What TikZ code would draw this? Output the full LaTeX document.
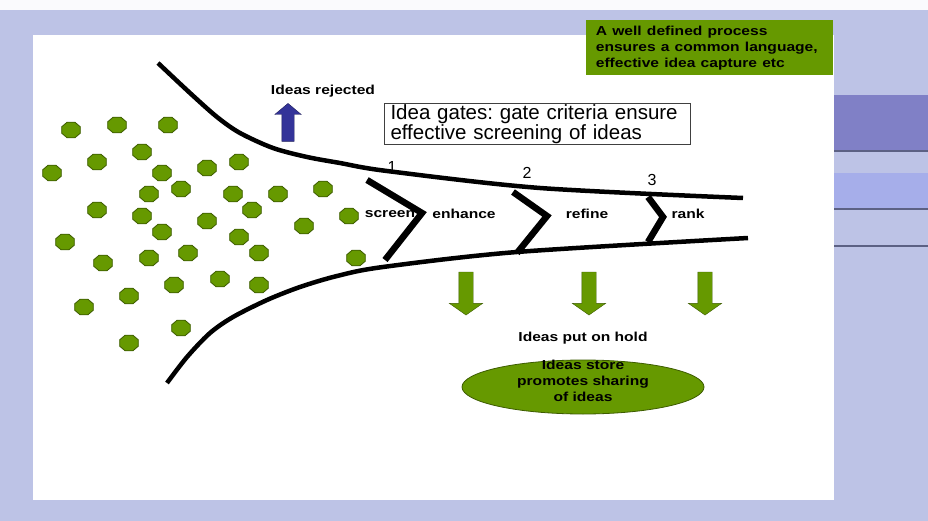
\documentclass[tikz,border=0pt]{standalone}
\usepackage{fontspec}
\setmainfont{Liberation Sans}
\usepackage{xcolor}
\usetikzlibrary{positioning,shapes.geometric,shapes.arrows}
\definecolor{ideagreen}{HTML}{669900}
\definecolor{ideaedge}{HTML}{3D5C00}
\definecolor{rejectblue}{HTML}{333399}
\definecolor{slideback}{HTML}{BDC3E6}
\definecolor{bandpurple}{HTML}{8080C6}
\definecolor{bandblue}{HTML}{A6AEEA}
\definecolor{bandline}{HTML}{5C6184}
\frenchspacing

\begin{document}
\begin{tikzpicture}[x=1pt, y=-1pt,
idea/.style = {draw=ideaedge, fill=ideagreen, regular polygon, regular polygon sides=8, minimum size=18pt, inner sep=0pt, xscale=1.12, yscale=0.94, line width=0.8pt},
lbl/.style = {font=\fontsize{13}{16}\selectfont\bfseries, inner sep=0pt, xscale=1.2},
gatenum/.style = {font=\fontsize{16}{16}\selectfont, inner sep=0pt},
funnel/.style = {line width=4.5pt},
gate/.style = {line width=6.5pt, line join=miter},
reject/.style = {single arrow, rotate=90, draw=rejectblue!60!black, fill=rejectblue, minimum height=38pt, inner sep=6pt, single arrow head extend=7pt, single arrow tip angle=100},
hold/.style = {single arrow, rotate=-90, draw=ideaedge, fill=ideagreen, minimum height=43pt, inner sep=7pt, single arrow head extend=9.5pt, single arrow tip angle=110},
store/.style = {ellipse, draw=ideaedge, fill=ideagreen, minimum width=242pt, minimum height=54pt, inner sep=0pt, line width=0.8pt}
]
\useasboundingbox (0,0) rectangle (928,521);

\fill [slideback] (0,0) rectangle (928,521);
\fill [white!92!slideback] (0,0) rectangle (928,10);
\fill [white] (33,35) rectangle (834,500);
\fill [bandpurple] (834,95) rectangle (928,151);
\fill [bandblue] (834,173) rectangle (928,208);
\draw [bandline, line width=2pt] (834,151) -- (928,151);
\draw [bandline, line width=2pt] (834,209) -- (928,209);
\draw [bandline, line width=2pt] (834,246) -- (928,246);

\node [lbl, fill=ideagreen, anchor=north west, text width=190pt, inner xsep=8pt, minimum height=55pt, align=left] (process) at (586,20) {A well defined process\\ ensures a common language,\\ effective idea capture etc};

\node [draw=black!75, line width=1pt, fill=white, anchor=north west, font=\fontsize{20.5}{20}\selectfont, text width=294pt, inner xsep=6pt, inner ysep=1pt, minimum height=38pt, align=left] (gates) at (384,103) {Idea gates: gate criteria ensure\\ effective screening of ideas};

\foreach \x/\y [count=\i] in {71/130, 117/125, 168/125, 142/152, 97/162, 52/173, 162/173, 207/168, 239/162,
    181/189, 149/194, 233/194, 278/194, 323/189, 97/210, 142/216, 252/210, 207/221, 349/216,
    162/232, 239/237, 304/226, 65/242, 149/258, 188/253, 259/253, 356/258, 103/263,
    129/296, 174/285, 220/279, 259/285, 84/307, 181/328, 129/343}
    \node [idea] (idea\i) at (\x,\y) {};

\draw [funnel] plot [smooth, tension=0.5] coordinates {(158,63) (190,93) (217,117) (240,133) (273,148) (307,157) (340,163) (387,171) (540,188) (743,198)};
\draw [funnel] plot [smooth, tension=0.5] coordinates {(167,383) (187,357) (210,333) (233,317) (267,300) (300,287) (337,276) (383,267) (517,252) (748,238)};

\node [lbl] (screen) at (390,214) {screen};
\node [lbl] (enhance) at (464,214) {enhance};
\node [lbl] (refine) at (587,214) {refine};
\node [lbl] (rank) at (688,214) {rank};

\draw [gate] (367,180) -- (422,213) -- (385,260);
\draw [gate] (513,192) -- (547,216) -- (517,253);
\draw [gate] (648,197) -- (663,217) -- (648,242);

\node [gatenum] (num1) at (392,167) {1};
\node [gatenum] (num2) at (527,173) {2};
\node [gatenum] (num3) at (652,180) {3};

\node [reject] (rejectarrow) at (288,125) {};
\node [lbl] (rejected) at (323,91) {Ideas rejected};

\foreach \x [count=\i] in {466,589,705}
    \node [hold] (hold\i) at (\x,291) {};

\node [store] (ideastore) at (583,387) {};
\node [lbl, align=center, yshift=6pt] (storetext) at (ideastore) {Ideas store\\promotes sharing\\of ideas};
\node [lbl, above=15pt of ideastore] (onhold) {Ideas put on hold};

\end{tikzpicture}
\end{document}
